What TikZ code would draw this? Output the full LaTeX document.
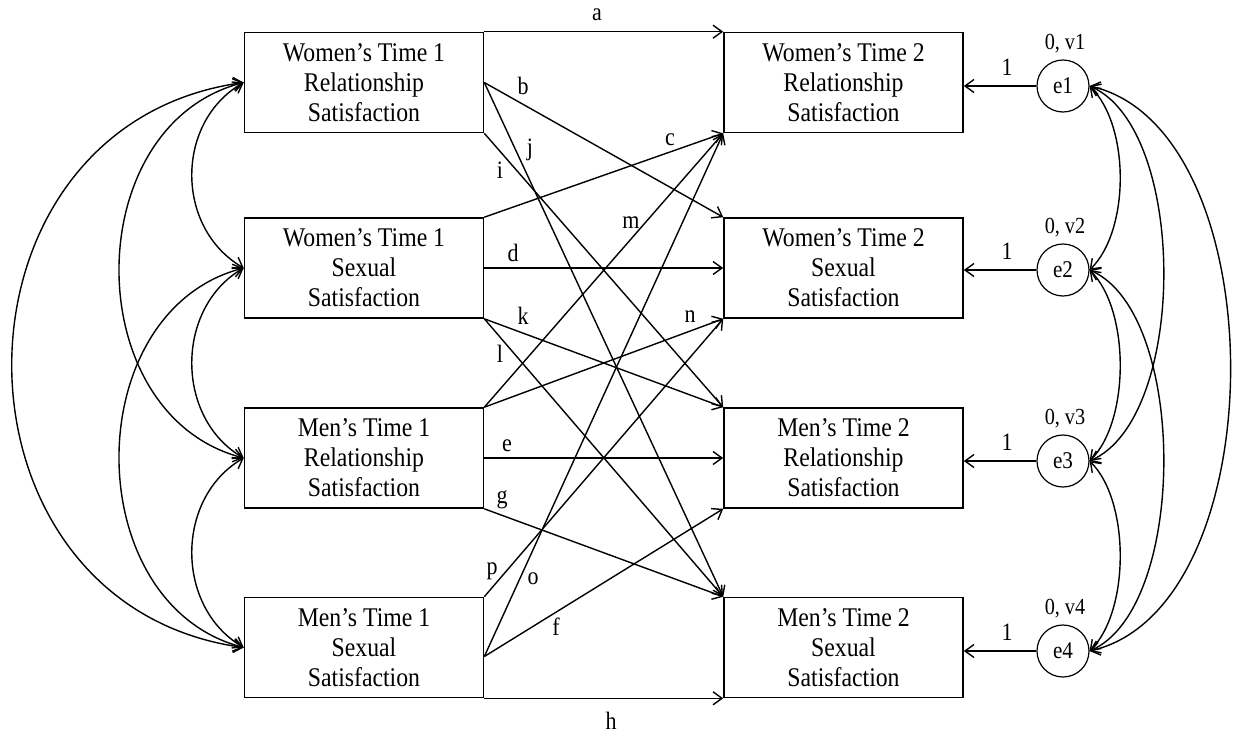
\documentclass[tikz,border=0pt]{standalone}
\usepackage{fontspec}
\setmainfont{Liberation Serif}
\newfontfamily\narrowserif[FakeStretch=0.88]{Liberation Serif}
\usetikzlibrary{arrows.meta}
\begin{document}
\begin{tikzpicture}[x=1pt,y=1pt,
  box/.style={draw, line width=1.6pt, minimum width=239pt, minimum height=100pt, align=center, inner sep=0pt, font=\narrowserif\fontsize{27}{30}\selectfont},
  err/.style={circle, draw, line width=1.2pt, minimum size=52pt, inner sep=0pt, font=\narrowserif\fontsize{24}{26}\selectfont},
  lbl/.style={inner sep=0pt, font=\narrowserif\fontsize{25}{27}\selectfont},
  small/.style={inner sep=0pt, font=\narrowserif\fontsize{23}{25}\selectfont},
  tip/.tip={Straight Barb[length=9pt,width=13pt,line width=1.4pt]},
  arr/.style={line width=1.4pt, -tip},
  dbl/.style={line width=1.4pt, tip-tip}]
\useasboundingbox (0,0) rectangle (1233,-737);
% left boxes
\node[box] (L1) at (364,-82.5) {Women’s Time 1\\Relationship\\Satisfaction};
\node[box] (L2) at (364,-268) {Women’s Time 1\\Sexual\\Satisfaction};
\node[box] (L3) at (364,-458) {Men’s Time 1\\Relationship\\Satisfaction};
\node[box] (L4) at (364,-647.5) {Men’s Time 1\\Sexual\\Satisfaction};
% right boxes
\node[box] (R1) at (843.5,-82.5) {Women’s Time 2\\Relationship\\Satisfaction};
\node[box] (R2) at (843.5,-268) {Women’s Time 2\\Sexual\\Satisfaction};
\node[box] (R3) at (843.5,-458) {Men’s Time 2\\Relationship\\Satisfaction};
\node[box] (R4) at (843.5,-647.5) {Men’s Time 2\\Sexual\\Satisfaction};
% error terms
\node[err] (e1) at (1063,-86) {e1};
\node[err] (e2) at (1063,-270) {e2};
\node[err] (e3) at (1063,-461) {e3};
\node[err] (e4) at (1063,-651) {e4};
\node[small] (v1) at (1065,-44) {0, v1};
\node[small] (v2) at (1065,-228) {0, v2};
\node[small] (v3) at (1065,-419) {0, v3};
\node[small] (v4) at (1065,-609) {0, v4};
\foreach \i in {1,2,3,4}{
  \draw[arr] (e\i.west) -- (R\i.east |- e\i.west);
}
\node[lbl] (o1) at (1007,-67) {1};
\node[lbl] (o2) at (1007,-251) {1};
\node[lbl] (o3) at (1007,-442) {1};
\node[lbl] (o4) at (1007,-632) {1};
% paths
\coordinate (L4f) at ([yshift=-9pt]L4.east);
\draw[arr] (L1.north east) -- (R1.north west);
\draw[arr] (L1.east) -- (R2.north west);
\draw[arr] (L1.east) -- (R4.north west);
\draw[arr] (L1.south east) -- (R3.north west);
\draw[arr] (L2.north east) -- (R1.south west);
\draw[arr] (L2.east) -- (R2.west);
\draw[arr] (L2.south east) -- (R3.north west);
\draw[arr] (L2.south east) -- (R4.north west);
\draw[arr] (L3.north east) -- (R1.south west);
\draw[arr] (L3.north east) -- (R2.south west);
\draw[arr] (L3.east) -- (R3.west);
\draw[arr] (L3.south east) -- (R4.north west);
\draw[arr] (L4.north east) -- (R2.south west);
\draw[arr] (L4f) -- (R1.south west);
\draw[arr] (L4f) -- (R3.south west);
\draw[arr] (L4.south east) -- (R4.south west);
% path labels
\node[lbl] (la) at (597,-15) {a};
\node[lbl] (lb) at (523,-86) {b};
\node[lbl] (lc) at (670,-140) {c};
\node[lbl] (li) at (500,-170) {i};
\node[lbl] (lj) at (530,-150) {j};
\node[lbl] (lm) at (631,-223) {m};
\node[lbl] (ld) at (513,-253) {d};
\node[lbl] (lk) at (523,-316) {k};
\node[lbl] (ln) at (690,-317) {n};
\node[lbl] (ll) at (500,-354) {l};
\node[lbl] (le) at (507,-446) {e};
\node[lbl] (lg) at (502,-500) {g};
\node[lbl] (lp) at (492,-571) {p};
\node[lbl] (lo) at (533,-579) {o};
\node[lbl] (lf) at (556,-627) {f};
\node[lbl] (lh) at (611,-721) {h};
% left covariances
\draw[dbl] (L1.west) .. controls (175,-122) and (175,-228) .. (L2.west);
\draw[dbl] (L2.west) .. controls (175,-308) and (175,-418) .. (L3.west);
\draw[dbl] (L3.west) .. controls (175,-498) and (175,-607) .. (L4.west);
\draw[dbl] (L1.west) .. controls (78,-125) and (78,-415) .. (L3.west);
\draw[dbl] (L2.west) .. controls (78,-311) and (78,-604) .. (L4.west);
\draw[dbl] (L1.west) .. controls (-65,-125) and (-65,-605) .. (L4.west);
% right covariances
\draw[dbl] (e1.east) .. controls (1130,-126) and (1130,-230) .. (e2.east);
\draw[dbl] (e2.east) .. controls (1130,-310) and (1130,-421) .. (e3.east);
\draw[dbl] (e3.east) .. controls (1130,-501) and (1130,-611) .. (e4.east);
\draw[dbl] (e1.east) .. controls (1188,-129) and (1188,-418) .. (e3.east);
\draw[dbl] (e2.east) .. controls (1188,-313) and (1188,-608) .. (e4.east);
\draw[dbl] (e1.east) .. controls (1277,-129) and (1277,-608) .. (e4.east);
\end{tikzpicture}
\end{document}
